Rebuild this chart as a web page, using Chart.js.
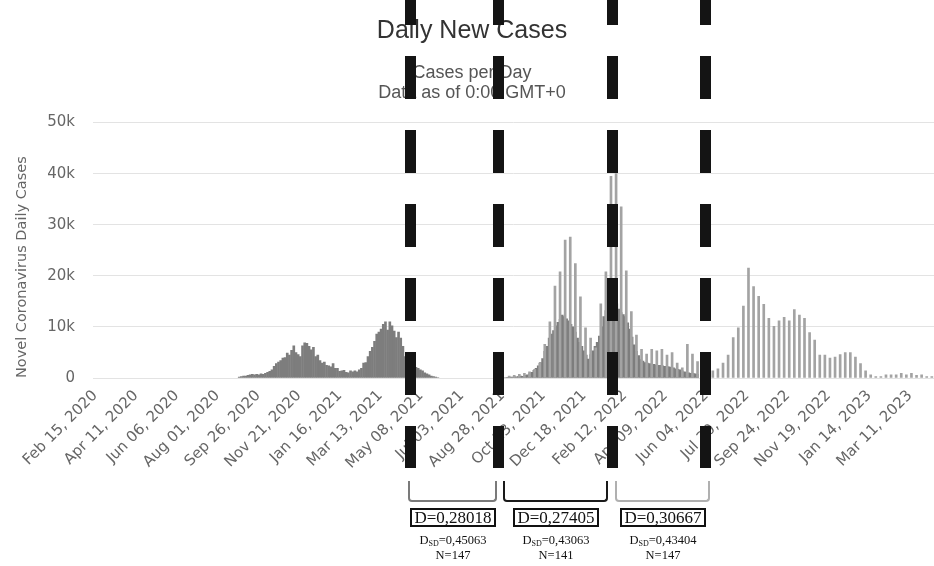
<!DOCTYPE html>
<html>
<head>
<meta charset="utf-8">
<title>Daily New Cases</title>
<script src="https://cdn.jsdelivr.net/npm/chart.js@4.4.0/dist/chart.umd.min.js"></script>
<style>
  html, body { margin: 0; padding: 0; background: #fff; }
  #wrap { position: relative; width: 934px; height: 566px; }
  #wrap canvas { position: absolute; left: 0; top: 0; }
  .bracket { position: absolute; top: 481px; height: 19px; border: 2.5px solid; border-top: none; border-radius: 0 0 4px 4px; }
  .stat { position: absolute; top: 508px; width: 140px; text-align: center; color: #111;
          font-family: 'Liberation Serif', 'DejaVu Serif', serif; }
  .stat .d { display: inline-block; border: 2px solid #111; padding: 0 2px; font-size: 17px; line-height: 15px; }
  .stat .sd { font-size: 12.5px; line-height: 15px; margin-top: 6px; }
  .stat sub { font-size: 8px; vertical-align: -2px; line-height: 0; }
</style>
</head>
<body>
<div id="wrap">
  <canvas id="casesChart" width="934" height="566"></canvas>
</div>
<script>
// x axis: days since Feb 15, 2020, one tick every 8 weeks
const tickStep = 56;
const tickLabels = ['Feb 15, 2020', 'Apr 11, 2020', 'Jun 06, 2020', 'Aug 01, 2020', 'Sep 26, 2020',
  'Nov 21, 2020', 'Jan 16, 2021', 'Mar 13, 2021', 'May 08, 2021', 'Jul 03, 2021', 'Aug 28, 2021',
  'Oct 23, 2021', 'Dec 18, 2021', 'Feb 12, 2022', 'Apr 09, 2022', 'Jun 04, 2022', 'Jul 30, 2022',
  'Sep 24, 2022', 'Nov 19, 2022', 'Jan 14, 2023', 'Mar 11, 2023'];
const yTickLabels = ['0', '10k', '20k', '30k', '40k', '50k'];

// daily cases, autumn 2020 - spring 2021 (one value every 3 days)
const waveOneStart = 198;
const waveOneStep = 3;
const waveOneCases = [200, 300, 400, 400, 500, 600, 700, 600, 700, 600,
  800, 700, 900, 1100, 1300, 1600, 2300, 2800, 3100, 3400,
  3900, 4000, 4900, 4500, 5400, 6300, 5000, 4600, 4200, 6300,
  6900, 6800, 6200, 5500, 6000, 4200, 4500, 3400, 2900, 3100,
  2500, 2400, 2200, 2800, 1900, 1900, 1300, 1400, 1500, 1100,
  1000, 1400, 1200, 1400, 1200, 1600, 1900, 2900, 3000, 4200,
  5200, 6000, 7200, 8600, 9000, 9600, 10500, 11000, 9400, 11000,
  10200, 9200, 7900, 9000, 7800, 6200, 4200, 3600, 3100, 2700,
  2300, 2100, 1900, 1600, 1400, 1000, 800, 600, 400, 300,
  200, 100];

// daily cases, autumn 2021 - summer 2022 (one value every 3 days)
const waveTwoStart = 564;
const waveTwoStep = 3;
const waveTwoCases = [100, 150, 200, 200, 300, 250, 350, 400, 350, 500,
  600, 800, 1100, 1500, 1900, 2400, 3000, 3800, 5200, 6200,
  7800, 8600, 9300, 10200, 10900, 11500, 12300, 12000, 11600, 11200,
  10500, 10000, 9000, 7800, 7000, 6200, 5300, 4500, 3700, 4600,
  5300, 6200, 7000, 8200, 10000, 12000, 13200, 15000, 16000, 16500,
  16000, 14500, 13500, 12800, 12400, 12000, 10800, 9600, 8000, 6500,
  5200, 4400, 3600, 3300, 3000, 2900, 2800, 2700, 2700, 2600,
  2500, 2500, 2400, 2300, 2300, 2200, 2100, 2000, 1800, 1700,
  1600, 1400, 1200, 1100, 1000, 900, 900, 800, 700];

// weekly reported peaks from autumn 2021 on
const weeklyStart = 569;
const weeklyStep = 7;
const weeklyCases = [400, 500, 700, 900, 1200, 1700, 2900, 6600, 11000, 18000,
  20800, 27000, 27600, 22400, 15900, 9800, 7800, 5900, 14500, 20800,
  39500, 40000, 33500, 21000, 13000, 8400, 5600, 4700, 5600, 5300,
  5600, 4500, 5000, 2900, 2000, 6600, 4700, 3200, 2500, 1200,
  1400, 1800, 2900, 4500, 7900, 9800, 14100, 21500, 17900, 16000,
  14400, 11700, 10100, 11200, 11900, 11200, 13400, 12300, 11700, 8900,
  7400, 4500, 4500, 3900, 4100, 4600, 5000, 5000, 4100, 2800,
  1400, 600, 300, 300, 600, 600, 600, 900, 600, 900,
  500, 600, 300, 300];

// period boundaries (days since Feb 15, 2020)
const dividerDays = [433, 554, 710, 838];

// statistics written under each period
const statD = ['D=0,28018', 'D=0,27405', 'D=0,30667'];
const statDsd = ['0,45063', '0,43063', '0,43404'];
const statN = ['N=147', 'N=141', 'N=147'];

const toPoints = (start, step, values) => values.map((v, i) => ({ x: start + i * step, y: v }));

const dividerLines = {
    id: 'dividerLines',
    afterDraw(chart) {
        const ctx = chart.ctx;
        const xScale = chart.scales.x;
        ctx.save();
        ctx.strokeStyle = '#141414';
        ctx.lineWidth = 11;
        ctx.setLineDash([43, 31]);
        dividerDays.forEach(d => {
            const px = Math.round(xScale.getPixelForValue(d)) + 0.5;
            ctx.beginPath();
            ctx.moveTo(px, -18);
            ctx.lineTo(px, 468);
            ctx.stroke();
        });
        ctx.restore();
    }
};

Chart.defaults.font.family = "'DejaVu Sans', sans-serif";

const ctx = document.getElementById('casesChart').getContext('2d');
const casesChart = new Chart(ctx, {
    type: 'bar',
    data: {
        datasets: [
            {
                label: 'Weekly',
                data: toPoints(weeklyStart, weeklyStep, weeklyCases),
                backgroundColor: '#a3a3a3',
                barThickness: 2
            },
            {
                label: 'Daily 2020-21',
                data: toPoints(waveOneStart, waveOneStep, waveOneCases),
                backgroundColor: '#7d7d7d',
                barThickness: 2
            },
            {
                label: 'Daily 2021-22',
                data: toPoints(waveTwoStart, waveTwoStep, waveTwoCases),
                backgroundColor: '#7d7d7d',
                barThickness: 2
            }
        ]
    },
    options: {
        responsive: false,
        animation: false,
        layout: { padding: { left: 10, top: 12, right: 0, bottom: 96 } },
        datasets: { bar: { grouped: false } },
        plugins: {
            legend: { display: false },
            tooltip: { enabled: false },
            title: {
                display: true,
                text: 'Daily New Cases',
                color: '#333',
                font: { family: "'Liberation Sans', sans-serif", size: 25, weight: 'normal' },
                padding: { top: 4, bottom: 17 }
            },
            subtitle: {
                display: true,
                text: ['Cases per Day', 'Data as of 0:00 GMT+0'],
                color: '#555',
                font: { family: "'Liberation Sans', sans-serif", size: 18, lineHeight: 1.1 },
                padding: { top: 0, bottom: 20 }
            }
        },
        scales: {
            x: {
                type: 'linear',
                min: -3,
                max: 1153,
                offset: false,
                grid: { display: false },
                border: { display: false },
                afterBuildTicks: (scale) => {
                    scale.ticks = tickLabels.map((t, i) => ({ value: i * tickStep }));
                },
                afterFit: (scale) => { scale.height = 92; },
                ticks: {
                    autoSkip: false,
                    minRotation: 45,
                    maxRotation: 45,
                    padding: 1,
                    color: '#666',
                    font: { size: 15 },
                    callback: (value, index) => tickLabels[index]
                }
            },
            y: {
                min: 0,
                max: 50000,
                grid: { color: '#e3e3e3', drawTicks: false },
                border: { display: false },
                afterFit: (scale) => { scale.width = 83; },
                title: {
                    display: true,
                    align: 'start',
                    text: 'Novel Coronavirus Daily Cases',
                    color: '#666',
                    font: { size: 14.5 }
                },
                ticks: {
                    stepSize: 10000,
                    padding: 18,
                    color: '#666',
                    font: { size: 15 },
                    callback: (value, index) => yTickLabels[index]
                }
            }
        }
    },
    plugins: [dividerLines]
});

// brackets and statistics under the three periods
const wrap = document.getElementById('wrap');
const bracketSpans = [[408, 90, '#7a7a7a'], [503, 106, '#1a1a1a'], [615, 96, '#b0b0b0']];
bracketSpans.forEach(([left, width, color], i) => {
    const br = document.createElement('div');
    br.className = 'bracket';
    br.style.left = left + 'px';
    br.style.width = (width - 5) + 'px';
    br.style.borderColor = color;
    wrap.appendChild(br);

    const st = document.createElement('div');
    st.className = 'stat';
    st.style.left = (left + width / 2 - 70) + 'px';
    st.innerHTML = '<div class="d">' + statD[i] + '</div>' +
        '<div class="sd">D<sub>SD</sub>=' + statDsd[i] + '<br>' + statN[i] + '</div>';
    wrap.appendChild(st);
});
</script>
</body>
</html>
